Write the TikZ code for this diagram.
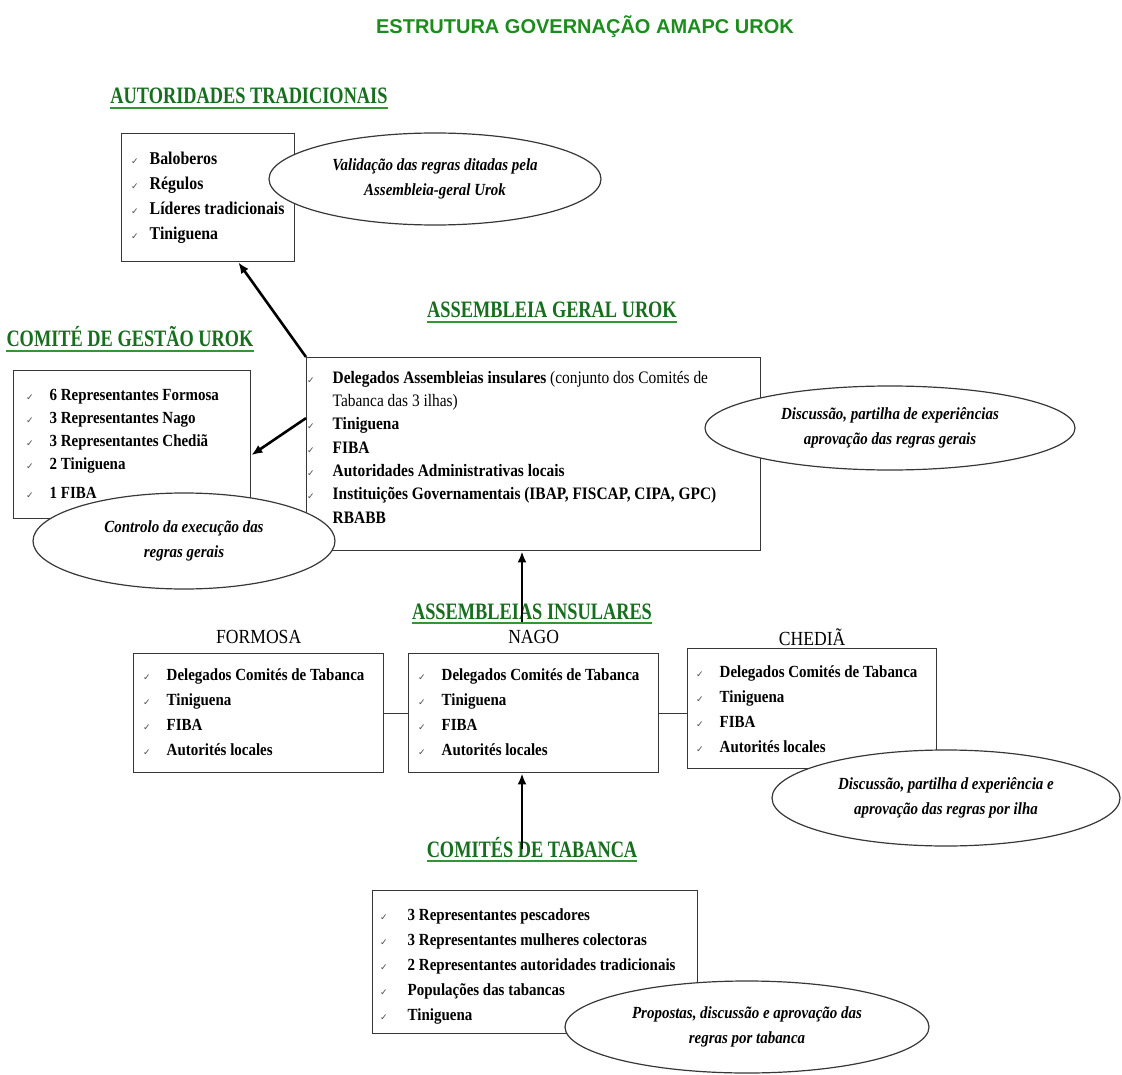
\documentclass[tikz,border=0pt]{standalone}
\usepackage{fontspec}
\setmainfont{Liberation Serif}[FakeStretch=0.88]
\newfontfamily\headfont{Liberation Serif}[FakeStretch=0.78]
\newfontfamily\titlefont{Liberation Sans}
\newfontfamily\tickfont{DejaVu Sans}
\usetikzlibrary{positioning,shapes.geometric,arrows.meta}

\definecolor{titlegreen}{RGB}{28,140,28}
\definecolor{headgreen}{RGB}{22,110,30}
\definecolor{linegreen}{RGB}{50,150,50}
\definecolor{boxline}{RGB}{55,55,55}

\newcommand{\tick}{{\tickfont\mdseries\upshape\fontsize{9}{9}\selectfont\color{black!70}✓}}
\newcommand{\checklist}[2]{\begin{tabular}{@{}l@{\hspace{#1}}l@{}}#2\end{tabular}}

\begin{document}
\begin{tikzpicture}[x=1pt,y=-1pt,>={Latex[length=11pt,width=9pt]},
    panel/.style={draw=boxline,line width=1.4pt,fill=white,inner sep=0pt,anchor=north west},
    itemlist/.style={inner sep=0pt,anchor=north west,font=\bfseries\fontsize{17}{25}\selectfont},
    bubble/.style={ellipse,draw=boxline,line width=1.2pt,fill=white,inner sep=0pt,align=center,
        font=\bfseries\itshape\fontsize{17}{25}\selectfont},
    heading/.style={anchor=base,inner sep=0pt,text=headgreen,font=\headfont\bfseries\fontsize{23.5}{23.5}\selectfont},
    island/.style={inner sep=0pt,font=\fontsize{20}{20}\selectfont},
    uline/.style={linegreen,line width=2.4pt},
    link/.style={boxline,line width=1.4pt},
    arr/.style={->,line width=2.6pt}]

    \useasboundingbox (0,0) rectangle (1122,1075);

    % titre
    \node[anchor=base,inner sep=0pt,text=titlegreen,font=\titlefont\bfseries\fontsize{20}{20}\selectfont]
        (title) at (585,34) {ESTRUTURA GOVERNAÇÃO AMAPC UROK};

    % titres des niveaux
    \node[heading] (hTrad) at (249,104) {AUTORIDADES TRADICIONAIS};
    \node[heading] (hAG) at (552,318) {ASSEMBLEIA GERAL UROK};
    \node[heading] (hCG) at (130,347) {COMITÉ DE GESTÃO UROK};
    \node[heading] (hAI) at (532,619) {ASSEMBLEIAS INSULARES};
    \node[heading] (hCT) at (532,857) {COMITÉS DE TABANCA};
    \foreach \h in {hTrad,hAG,hCG,hAI,hCT}
        \draw[uline] ([yshift=-4pt]\h.base west) -- ([yshift=-4pt]\h.base east);

    % cadres
    \node[panel,minimum width=173pt,minimum height=128pt] (trad) at (121,133) {};
    \node[panel,minimum width=237pt,minimum height=148pt] (cg) at (13,370) {};
    \node[panel,minimum width=454pt,minimum height=193pt] (ag) at (306,357) {};
    \node[panel,minimum width=250pt,minimum height=119pt] (formosa) at (133,653) {};
    \node[panel,minimum width=250pt,minimum height=119pt] (nago) at (408,653) {};
    \node[panel,minimum width=249pt,minimum height=120pt] (chedia) at (687,648) {};
    \node[panel,minimum width=325pt,minimum height=143pt] (ct) at (372,890) {};

    % noms des iles
    \node[island,above=9pt of formosa] (lFormosa) {FORMOSA};
    \node[island,above=9pt of nago] (lNago) {NAGO};
    \node[island,above=2pt of chedia] (lChedia) {CHEDIÃ};

    % listes
    \node[itemlist,font=\bfseries\fontsize{18}{25}\selectfont] (tradList) at (131,146.5)
        {\checklist{11pt}{\tick & Baloberos\\ \tick & Régulos\\ \tick & Líderes tradicionais\\ \tick & Tiniguena}};
    \node[itemlist,font=\bfseries\fontsize{17}{23}\selectfont] (cgList) at (26,384.6)
        {\checklist{16pt}{\tick & 6 Representantes Formosa\\ \tick & 3 Representantes Nago\\
        \tick & 3 Representantes Chediã\\ \tick & 2 Tiniguena\\[6pt] \tick & 1 FIBA}};
    \node[itemlist,font=\bfseries\fontsize{17.5}{23.3}\selectfont] (agList) at (307,366.7)
        {\checklist{18pt}{\tick & Delegados Assembleias insulares \textmd{(conjunto dos Comités de}\\
        & \textmd{Tabanca das 3 ilhas)}\\ \tick & Tiniguena\\ \tick & FIBA\\
        \tick & Autoridades Administrativas locais\\
        \tick & Instituições Governamentais (IBAP, FISCAP, CIPA, GPC)\\ & RBABB}};
    \node[itemlist] (formosaList) at (143,663.2)
        {\checklist{16pt}{\tick & Delegados Comités de Tabanca\\ \tick & Tiniguena\\ \tick & FIBA\\ \tick & Autorités locales}};
    \node[itemlist] (nagoList) at (418,663.2)
        {\checklist{16pt}{\tick & Delegados Comités de Tabanca\\ \tick & Tiniguena\\ \tick & FIBA\\ \tick & Autorités locales}};
    \node[itemlist] (chediaList) at (696,660.2)
        {\checklist{16pt}{\tick & Delegados Comités de Tabanca\\ \tick & Tiniguena\\ \tick & FIBA\\ \tick & Autorités locales}};
    \node[itemlist] (ctList) at (380,902.6)
        {\checklist{20pt}{\tick & 3 Representantes pescadores\\ \tick & 3 Representantes mulheres colectoras\\
        \tick & 2 Representantes autoridades tradicionais\\ \tick & Populações das tabancas\\ \tick & Tiniguena}};

    % liaisons entre iles
    \draw[link] (formosa.east) -- (nago.west);
    \draw[link] (nago.east) -- (nago.east -| chedia.west);

    % fleches
    \draw[arr] (ag.north west) -- (trad.-65);
    \draw[arr] (ag.171) -- (cg.-5);
    \coordinate (aiStem) at (522,622);
    \draw[arr] (aiStem) -- (aiStem |- ag.south);
    \coordinate (ctStem) at (522,849);
    \draw[arr] (ctStem) -- (ctStem |- nago.south);

    % bulles
    \node[bubble,minimum width=332pt,minimum height=92pt] (valid) at (435,179)
        {Validação das regras ditadas pela\\Assembleia-geral Urok};
    \node[bubble,minimum width=302pt,minimum height=96pt] (ctrl) at (184,541)
        {Controlo da execução das\\regras gerais};
    \node[bubble,minimum width=370pt,minimum height=84pt] (discAG) at (890,428)
        {Discussão, partilha de experiências\\aprovação das regras gerais};
    \node[bubble,minimum width=348pt,minimum height=96pt] (discIlha) at (946,798)
        {Discussão, partilha d experiência e\\aprovação das regras por ilha};
    \node[bubble,minimum width=364pt,minimum height=92pt] (prop) at (747,1027)
        {Propostas, discussão e aprovação das\\regras por tabanca};
\end{tikzpicture}
\end{document}
